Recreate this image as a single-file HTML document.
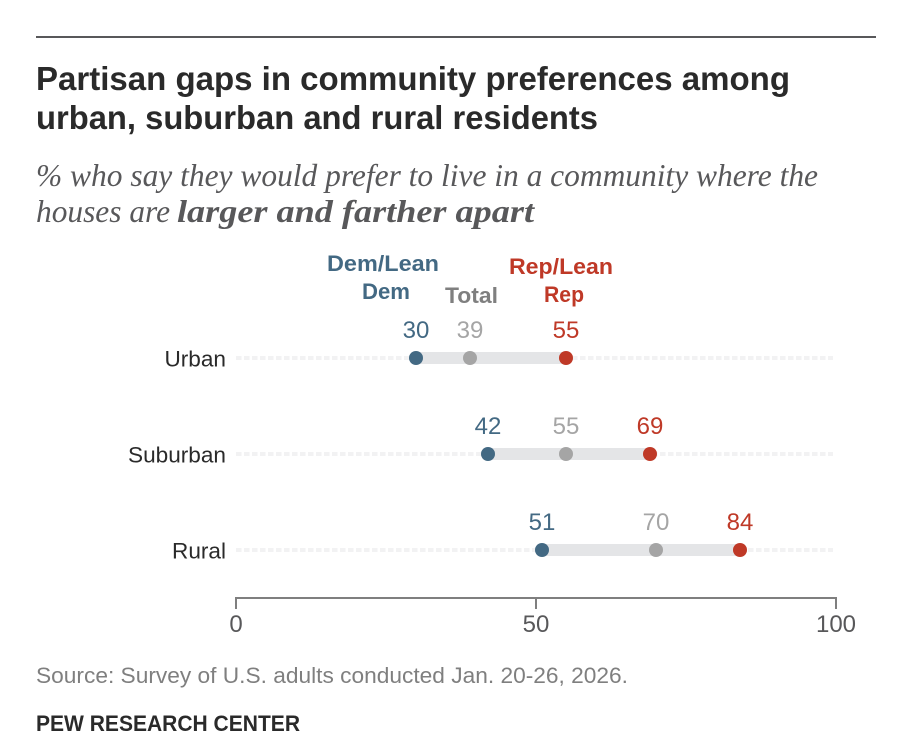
<!DOCTYPE html>
<html lang="en">
<head>
<meta charset="utf-8">
<title>Partisan gaps in community preferences</title>
<style>
html,body{margin:0;padding:0;background:#fff;width:912px;height:748px;overflow:hidden}
svg{display:block}
text{font-family:"Liberation Sans",sans-serif}
.serif{font-family:"Liberation Serif",serif;font-style:italic}
</style>
</head>
<body>
<svg id="chart" width="912" height="748" viewBox="0 0 912 748" xmlns="http://www.w3.org/2000/svg">
  <rect width="912" height="748" fill="#ffffff"/>
  <rect x="36" y="36" width="840" height="2" fill="#58585a"/>
  <text x="36" y="90" font-size="33" font-weight="700" fill="#2a2a2a" textLength="754" lengthAdjust="spacingAndGlyphs">Partisan gaps in community preferences among</text>
  <text x="36" y="129" font-size="33" font-weight="700" fill="#2a2a2a" textLength="562" lengthAdjust="spacingAndGlyphs">urban, suburban and rural residents</text>
  <text class="serif" x="36" y="186" font-size="32" fill="#58585a" textLength="782" lengthAdjust="spacingAndGlyphs">% who say they would prefer to live in a community where the</text>
  <text class="serif" x="36" y="222" font-size="32" fill="#58585a" textLength="134" lengthAdjust="spacingAndGlyphs">houses are</text>
  <text class="serif" x="177" y="222" font-size="32" font-weight="700" fill="#58585a" textLength="357" lengthAdjust="spacingAndGlyphs">larger and farther apart</text>

  <g id="legend" font-size="22" font-weight="700">
    <text x="327" y="271" fill="#436983" textLength="112" lengthAdjust="spacingAndGlyphs">Dem/Lean</text>
    <text x="362" y="299" fill="#436983" textLength="48" lengthAdjust="spacingAndGlyphs">Dem</text>
    <text x="445" y="303" fill="#7f7f7f" textLength="53" lengthAdjust="spacingAndGlyphs">Total</text>
    <text x="509" y="274" fill="#bf3927" textLength="104" lengthAdjust="spacingAndGlyphs">Rep/Lean</text>
    <text x="544" y="302" fill="#bf3927" textLength="40" lengthAdjust="spacingAndGlyphs">Rep</text>
  </g>

  <g id="rows"></g>
  <g id="axis"></g>

  <text x="36" y="683" font-size="22" fill="#7f7f7f" textLength="592" lengthAdjust="spacingAndGlyphs">Source: Survey of U.S. adults conducted Jan. 20-26, 2026.</text>
  <text x="36" y="731" font-size="22" font-weight="700" fill="#2a2a2a" textLength="264" lengthAdjust="spacingAndGlyphs">PEW RESEARCH CENTER</text>
</svg>
<script>
const categories = ['Urban', 'Suburban', 'Rural'];
const demValues = [30, 42, 51];
const totalValues = [39, 55, 70];
const repValues = [55, 69, 84];
const tickValues = [0, 50, 100];

const NS = 'http://www.w3.org/2000/svg';
const xScale = v => 236 + v * 6;
const yScale = i => 358 + i * 96;

function make(parent, tag, attrs, content) {
  const el = document.createElementNS(NS, tag);
  for (const k in attrs) el.setAttribute(k, attrs[k]);
  if (content !== undefined) el.textContent = content;
  parent.appendChild(el);
  return el;
}

const rowsLayer = document.getElementById('rows');
categories.forEach((cat, i) => {
  const y = yScale(i);
  const slug = cat.toLowerCase();

  const label = make(rowsLayer, 'text', {x: 226, y: y + 8.5, 'font-size': 22.6, fill: '#2a2a2a', 'text-anchor': 'end'}, cat);
  
  

  const guide = make(rowsLayer, 'line', {x1: xScale(0), x2: xScale(100) - 3, y1: y, y2: y, stroke: '#f2f2f3', 'stroke-width': 4, 'stroke-dasharray': '5.5 2.5'});
  
  

  const bar = make(rowsLayer, 'rect', {x: xScale(demValues[i]), y: y - 6, width: xScale(repValues[i]) - xScale(demValues[i]), height: 12, fill: '#e4e5e7'});
  
  

  const series = [
    ['dem', demValues[i], '#436983', '#436983'],
    ['total', totalValues[i], '#a5a5a5', '#a5a5a5'],
    ['rep', repValues[i], '#bf3927', '#bf3927']
  ];
  series.forEach(s => {
    const dot = make(rowsLayer, 'circle', {cx: xScale(s[1]), cy: y, r: 7, fill: s[2]});
    
    

    const val = make(rowsLayer, 'text', {x: xScale(s[1]), y: y - 20, 'font-size': 24, fill: s[3], 'text-anchor': 'middle'}, String(s[1]));
    
    
  });
});

const axisLayer = document.getElementById('axis');
const axisLine = make(axisLayer, 'line', {x1: xScale(tickValues[0]) - 1, x2: xScale(tickValues[tickValues.length - 1]) + 1, y1: 598, y2: 598, stroke: '#7f7f7f', 'stroke-width': 2});


tickValues.forEach(t => {
  const tick = make(axisLayer, 'line', {x1: xScale(t), x2: xScale(t), y1: 598, y2: 609, stroke: '#7f7f7f', 'stroke-width': 2});
  
  

  const lab = make(axisLayer, 'text', {x: xScale(t), y: 632, 'font-size': 24, fill: '#58585a', 'text-anchor': 'middle'}, String(t));
  
  
});
</script>
</body>
</html>
